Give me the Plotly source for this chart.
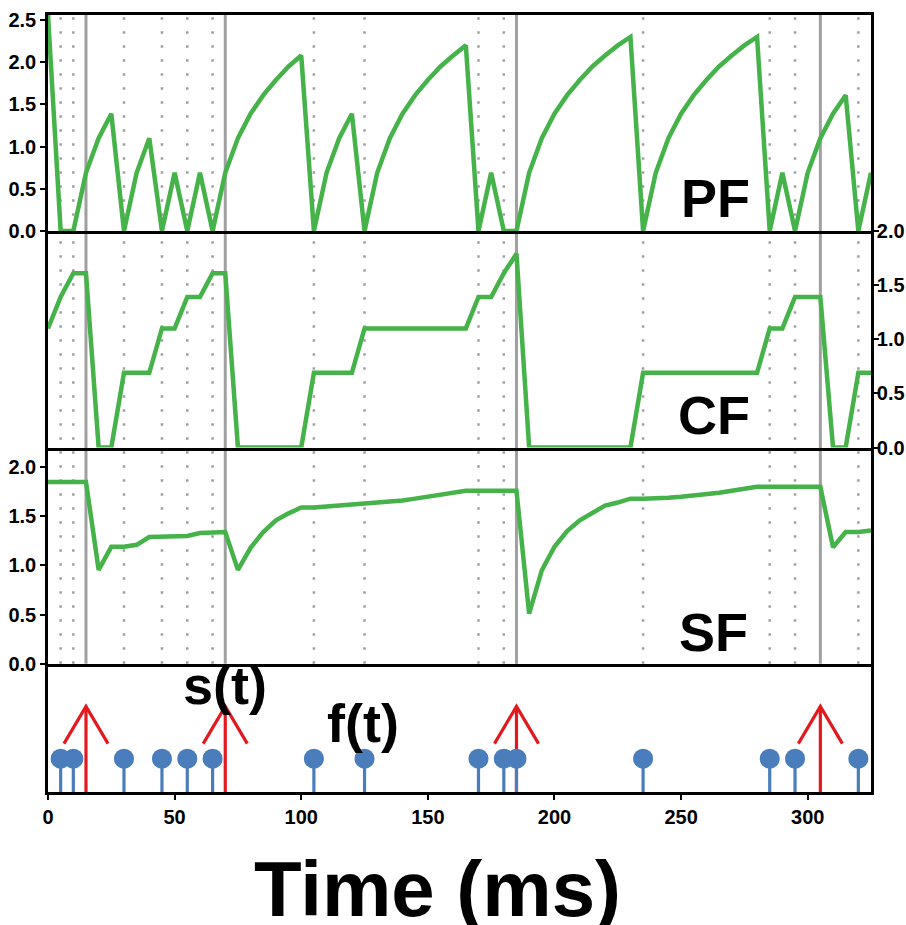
import plotly.graph_objects as go
from plotly.subplots import make_subplots

# Simulation time grid (ms)
time_ms = [0, 5, 10, 15, 20, 25, 30, 35, 40, 45, 50, 55, 60, 65, 70, 75, 80, 85, 90, 95,
           100, 105, 110, 115, 120, 125, 130, 135, 140, 145, 150, 155, 160, 165, 170, 175,
           180, 185, 190, 195, 200, 205, 210, 215, 220, 225, 230, 235, 240, 245, 250, 255,
           260, 265, 270, 275, 280, 285, 290, 295, 300, 305, 310, 315, 320, 325]

# Feature traces
pf_values = [2.56, 0.00, 0.00, 0.69, 1.10, 1.39, 0.00, 0.69, 1.10, 0.00, 0.69, 0.00, 0.69, 0.00,
             0.69, 1.10, 1.39, 1.61, 1.79, 1.95, 2.08, 0.00, 0.69, 1.10, 1.39, 0.00, 0.69, 1.10,
             1.39, 1.61, 1.79, 1.95, 2.08, 2.20, 0.00, 0.69, 0.00, 0.00, 0.69, 1.10, 1.39, 1.61,
             1.79, 1.95, 2.08, 2.20, 2.30, 0.00, 0.69, 1.10, 1.39, 1.61, 1.79, 1.95, 2.08, 2.20,
             2.30, 0.00, 0.69, 0.00, 0.69, 1.10, 1.39, 1.61, 0.00, 0.69]

cf_values = [1.10, 1.39, 1.61, 1.61, 0.00, 0.00, 0.69, 0.69, 0.69, 1.10, 1.10, 1.39, 1.39, 1.61,
             1.61, 0.00, 0.00, 0.00, 0.00, 0.00, 0.00, 0.69, 0.69, 0.69, 0.69, 1.10, 1.10, 1.10,
             1.10, 1.10, 1.10, 1.10, 1.10, 1.10, 1.39, 1.39, 1.61, 1.79, 0.00, 0.00, 0.00, 0.00,
             0.00, 0.00, 0.00, 0.00, 0.00, 0.69, 0.69, 0.69, 0.69, 0.69, 0.69, 0.69, 0.69, 0.69,
             0.69, 1.10, 1.10, 1.39, 1.39, 1.39, 0.00, 0.00, 0.69, 0.69]

sf_values = [1.85, 1.85, 1.85, 1.85, 0.955, 1.19, 1.19, 1.21, 1.29, 1.29, 1.30, 1.30, 1.33, 1.33,
             1.34, 0.955, 1.18, 1.34, 1.46, 1.53, 1.59, 1.59, 1.60, 1.61, 1.62, 1.62, 1.63, 1.64,
             1.66, 1.68, 1.70, 1.72, 1.74, 1.76, 1.76, 1.76, 1.76, 1.76, 0.51, 0.95, 1.19, 1.35,
             1.46, 1.54, 1.61, 1.64, 1.68, 1.68, 1.68, 1.69, 1.70, 1.71, 1.73, 1.74, 1.76, 1.78,
             1.80, 1.80, 1.80, 1.80, 1.80, 1.80, 1.185, 1.34, 1.34, 1.355]

# Event times (ms)
f_times = [5, 10, 30, 45, 55, 65, 105, 125, 170, 180, 185, 235, 285, 295, 320]
s_times = [15, 70, 185, 305]

# x-axis ticks
x_ticks = [0, 50, 100, 150, 200, 250, 300]

GREEN = "#45b24a"
BLUE = "#4a7dbb"
RED = "#e3191f"
GRID = "#a0a0a0"
FONT = "Liberation Sans"

W, H = 906, 925
M_L, M_R, M_T, M_B = 48, 35, 15, 133
PLOT_W = W - M_L - M_R
PLOT_H = H - M_T - M_B

row_h = [216.0, 216.5, 216.3, 128.2]

fig = make_subplots(rows=4, cols=1, shared_xaxes=True, vertical_spacing=0,
                    row_heights=row_h)

line_style = dict(color=GREEN, width=4.5)
fig.add_trace(go.Scatter(x=time_ms, y=pf_values, mode="lines", line=line_style,
                         showlegend=False), row=1, col=1)
fig.add_trace(go.Scatter(x=time_ms, y=cf_values, mode="lines", line=line_style,
                         showlegend=False), row=2, col=1)
fig.add_trace(go.Scatter(x=time_ms, y=sf_values, mode="lines", line=line_style,
                         showlegend=False), row=3, col=1)

# Event raster: red arrows for s(t), blue lollipops for f(t)
ARROW_TOP, WING_Y, WING_DX = 0.667, 0.377, 8.7
STEM_TOP = 0.26
ax, ay = [], []
for t in s_times:
    ax += [t, t, None, t - WING_DX, t, t + WING_DX, None]
    ay += [0, ARROW_TOP, None, WING_Y, ARROW_TOP, WING_Y, None]
fig.add_trace(go.Scatter(x=ax, y=ay, mode="lines", line=dict(color=RED, width=3.2),
                         showlegend=False), row=4, col=1)

sx, sy = [], []
for t in f_times:
    sx += [t, t, None]
    sy += [0, STEM_TOP, None]
fig.add_trace(go.Scatter(x=sx, y=sy, mode="lines", line=dict(color=BLUE, width=3.2),
                         showlegend=False), row=4, col=1)
fig.add_trace(go.Scatter(x=f_times, y=[STEM_TOP] * len(f_times), mode="markers",
                         marker=dict(color=BLUE, size=20, line=dict(width=0)),
                         showlegend=False), row=4, col=1)

# Marker lines spanning the three feature panels
y_low = row_h[3] / sum(row_h)
for t in f_times:
    fig.add_shape(type="line", xref="x", yref="paper", x0=t, x1=t, y0=y_low, y1=1,
                  line=dict(color=GRID, width=2.5, dash="2.5px,11.5px"), layer="below")
for t in s_times:
    fig.add_shape(type="line", xref="x", yref="paper", x0=t, x1=t, y0=y_low, y1=1,
                  line=dict(color=GRID, width=3), layer="below")

tick_font = dict(family=FONT, size=20, color="black", weight="bold")
axis_common = dict(showline=True, linecolor="black", linewidth=2.6,
                   showgrid=False, zeroline=False, tickfont=tick_font, automargin=False,
                   tickcolor="black", tickwidth=2, ticklen=5)

for i in range(1, 5):
    # only the top panel carries a mirrored (top) frame line; the others draw their bottom edge
    xa = dict(axis_common, range=[0, 325], ticks="", showticklabels=False,
              mirror=(i == 1))
    if i == 4:
        xa.update(ticks="outside", showticklabels=True, tickvals=x_ticks)
    fig.update_xaxes(xa, row=i, col=1)

fig.update_yaxes(dict(axis_common, range=[0, 2.56], dtick=0.5, tickformat=".1f",
                      ticks="outside", mirror=True), row=1, col=1)
fig.update_yaxes(dict(axis_common, range=[0, 2.0], dtick=0.5, tickformat=".1f",
                      ticks="outside", side="right", mirror=True,
                      ticklabelstandoff=-6), row=2, col=1)
fig.update_yaxes(dict(axis_common, range=[0, 2.2], dtick=0.5, tickformat=".1f",
                      ticks="outside", mirror=True), row=3, col=1)
fig.update_yaxes(dict(axis_common, range=[0, 1], ticks="", showticklabels=False,
                      mirror=True), row=4, col=1)


def px_x(p):
    return (p - M_L) / PLOT_W


def px_y(p):
    return (H - M_B - p) / PLOT_H


label_font = dict(family=FONT, size=54, color="black", weight="bold")
labels = [("PF", 715, 198), ("CF", 714, 415), ("SF", 713, 632),
          ("s(t)", 225, 685), ("f(t)", 363, 723)]
for text, lx, ly in labels:
    fig.add_annotation(text=text, x=px_x(lx), y=px_y(ly), xref="paper", yref="paper",
                       xanchor="center", yanchor="middle", showarrow=False,
                       font=label_font)

fig.add_annotation(text="Time (ms)", x=px_x(437), y=px_y(889), xref="paper", yref="paper",
                   xanchor="center", yanchor="middle", showarrow=False,
                   font=dict(family=FONT, size=78, color="black", weight="bold"))

fig.update_layout(width=W, height=H, margin=dict(l=M_L, r=M_R, t=M_T, b=M_B,
                                                 autoexpand=False),
                  plot_bgcolor="white", paper_bgcolor="white")

fig.write_html("out.html")
